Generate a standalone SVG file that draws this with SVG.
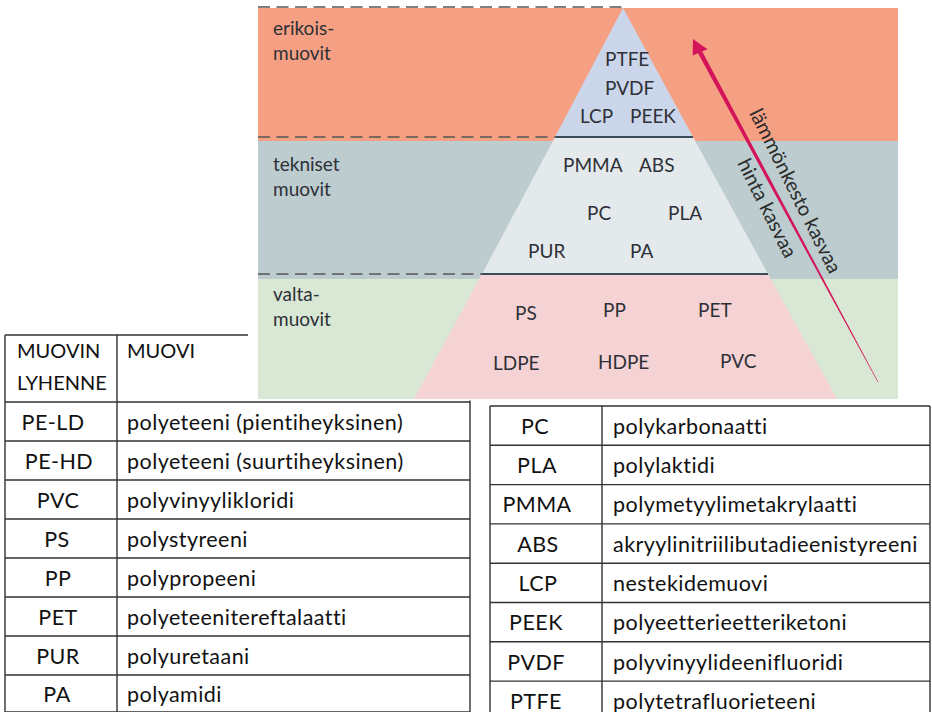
<svg xmlns="http://www.w3.org/2000/svg" width="932" height="712" viewBox="0 0 932 712">
<style>
text{font-variant-ligatures:none}
.lbl{font-family:Lato,"Liberation Sans",sans-serif;font-size:19px;fill:#2e3038}
.rot{font-family:Lato,"Liberation Sans",sans-serif;font-size:20px;fill:#2a2a2a}
.tt{font-family:Lato,"Liberation Sans",sans-serif;font-size:21.5px;letter-spacing:0.45px;fill:#111}
.hd{font-size:20px;letter-spacing:0}
.c{text-anchor:middle}
.grid{stroke:#333;stroke-width:1.4;fill:none}
.dash{stroke:#555;stroke-width:1.5;stroke-dasharray:12 6.5;fill:none}
.solid{stroke:#3b4d5a;stroke-width:2;fill:none}
</style>
<rect width="932" height="712" fill="#fff"/>

<!-- Table 1 (under the picture) -->
<g id="table1">
  <g class="grid">
    <path d="M5,335H470M5,402H470M5,441H470M5,480H470M5,519H470M5,558H470M5,597H470M5,636H470M5,675H470M5,712H470"/>
    <path d="M5,335V712M117,335V712M470,335V712"/>
  </g>
  <g id="t1-head"><text class="tt hd" x="17" y="358">MUOVIN</text><text class="tt hd" x="17" y="390">LYHENNE</text><text class="tt hd" x="127" y="358">MUOVI</text></g>
  <g id="t1-r1"><text class="tt c" x="53" y="429.5">PE-LD</text><text class="tt" x="127" y="429.5">polyeteeni (pientiheyksinen)</text></g>
  <g id="t1-r2"><text class="tt c" x="59" y="468.5">PE-HD</text><text class="tt" x="127" y="468.5">polyeteeni (suurtiheyksinen)</text></g>
  <g id="t1-r3"><text class="tt c" x="58" y="507.5">PVC</text><text class="tt" x="127" y="507.5">polyvinyylikloridi</text></g>
  <g id="t1-r4"><text class="tt c" x="57" y="546.5">PS</text><text class="tt" x="127" y="546.5">polystyreeni</text></g>
  <g id="t1-r5"><text class="tt c" x="58" y="585.5">PP</text><text class="tt" x="127" y="585.5">polypropeeni</text></g>
  <g id="t1-r6"><text class="tt c" x="58" y="624.5">PET</text><text class="tt" x="127" y="624.5">polyeteenitereftalaatti</text></g>
  <g id="t1-r7"><text class="tt c" x="58" y="663.5">PUR</text><text class="tt" x="127" y="663.5">polyuretaani</text></g>
  <g id="t1-r8"><text class="tt c" x="57" y="702">PA</text><text class="tt" x="127" y="702">polyamidi</text></g>
</g>

<!-- Picture -->
<g id="picture">
  <rect x="248" y="0" width="684" height="400.5" fill="#fff"/>
  <rect x="258" y="8" width="640" height="133" fill="#F6A083"/>
  <rect x="258" y="141" width="640" height="138" fill="#BCCCCF"/>
  <rect x="258" y="279" width="640" height="120" fill="#D9E8D4"/>
</g>

<g id="pyramid">
  <polygon id="tier-top" points="623,8 555,137 693,137" fill="#CBD6EA"/>
  <polygon id="tier-mid" points="555,137 693,137 768,274 482,274" fill="#E4EAEC"/>
  <polygon id="tier-bot" points="482,274 768,274 837,399 414,399" fill="#F5D3D4"/>
  <path class="dash" d="M258,7H623"/>
  <path class="dash" d="M258,137H568"/>
  <path class="solid" d="M556,137H693"/>
  <path class="dash" d="M258,274H482"/>
  <path class="solid" d="M482,274H768"/>
</g>

<g id="band-labels">
  <g id="erikois"><text class="lbl" x="273" y="35">erikois-</text><text class="lbl" x="273" y="60">muovit</text></g>
  <g id="tekniset"><text class="lbl" x="273" y="171">tekniset</text><text class="lbl" x="273" y="196">muovit</text></g>
  <g id="valta"><text class="lbl" x="273" y="301">valta-</text><text class="lbl" x="273" y="326">muovit</text></g>
</g>

<g id="plastics">
  <g id="n-PTFE"><text class="lbl" x="605" y="66">PTFE</text></g>
  <g id="n-PVDF"><text class="lbl" x="605" y="95">PVDF</text></g>
  <g id="n-LCP"><text class="lbl" x="580" y="123">LCP</text></g>
  <g id="n-PEEK"><text class="lbl" x="630" y="123">PEEK</text></g>
  <g id="n-PMMA"><text class="lbl" x="563" y="172">PMMA</text></g>
  <g id="n-ABS"><text class="lbl" x="639" y="172">ABS</text></g>
  <g id="n-PC"><text class="lbl" x="587" y="220">PC</text></g>
  <g id="n-PLA"><text class="lbl" x="668" y="220">PLA</text></g>
  <g id="n-PUR"><text class="lbl" x="528" y="258">PUR</text></g>
  <g id="n-PA"><text class="lbl" x="630" y="258">PA</text></g>
  <g id="n-PS"><text class="lbl" x="515" y="320">PS</text></g>
  <g id="n-PP"><text class="lbl" x="603" y="317">PP</text></g>
  <g id="n-PET"><text class="lbl" x="698" y="317">PET</text></g>
  <g id="n-LDPE"><text class="lbl" x="493" y="370">LDPE</text></g>
  <g id="n-HDPE"><text class="lbl" x="598" y="369">HDPE</text></g>
  <g id="n-PVC"><text class="lbl" x="720" y="368">PVC</text></g>
</g>

<g id="connectors">
  <polygon points="702.0,51.1 698.0,53.3 877.7,382.1 878.3,381.9" fill="#D4145A"/>
  <polygon points="693,39 692.7,55.5 707.5,49.3" fill="#D4145A"/>
  <text class="rot" transform="translate(749,113) rotate(63.5)">lämmönkesto kasvaa</text>
  <text class="rot" transform="translate(737,163) rotate(63.5)">hinta kasvaa</text>
</g>

<!-- Table 2 -->
<g id="table2">
  <g class="grid">
    <path d="M490,406H930M490,445.3H930M490,484.6H930M490,523.9H930M490,563.2H930M490,602.5H930M490,641.8H930M490,681.1H930"/>
    <path d="M490,406V712M602,406V712M930,406V712"/>
  </g>
  <g id="t2-r1"><text class="tt c" x="535" y="433.7">PC</text><text class="tt" x="613" y="433.7">polykarbonaatti</text></g>
  <g id="t2-r2"><text class="tt c" x="537" y="473">PLA</text><text class="tt" x="613" y="473">polylaktidi</text></g>
  <g id="t2-r3"><text class="tt c" x="537" y="512.3">PMMA</text><text class="tt" x="613" y="512.3">polymetyylimetakrylaatti</text></g>
  <g id="t2-r4"><text class="tt c" x="538" y="551.6">ABS</text><text class="tt" x="613" y="551.6">akryylinitriilibutadieenistyreeni</text></g>
  <g id="t2-r5"><text class="tt c" x="538" y="590.9">LCP</text><text class="tt" x="613" y="590.9">nestekidemuovi</text></g>
  <g id="t2-r6"><text class="tt c" x="536" y="630.2">PEEK</text><text class="tt" x="613" y="630.2">polyeetterieetteriketoni</text></g>
  <g id="t2-r7"><text class="tt c" x="536" y="669.5">PVDF</text><text class="tt" x="613" y="669.5">polyvinyylideenifluoridi</text></g>
  <g id="t2-r8"><text class="tt c" x="536" y="708.8">PTFE</text><text class="tt" x="613" y="708.8">polytetrafluorieteeni</text></g>
</g>
</svg>
